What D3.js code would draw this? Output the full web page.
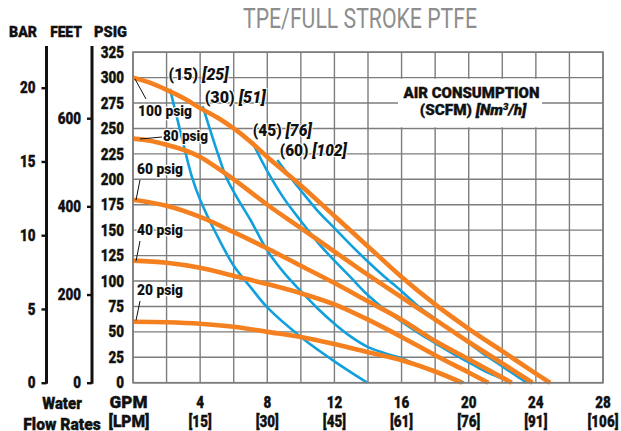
<!DOCTYPE html>
<html>
<head>
<meta charset="utf-8">
<script src="https://cdn.jsdelivr.net/npm/d3@7"></script>
<style>
  html, body { margin: 0; padding: 0; background: #fff; }
  svg { display: block; }
  text { font-family: Roboto, "Liberation Sans", sans-serif; font-weight: 900; fill: #111; stroke: #111; stroke-width: 0.35px; }
</style>
</head>
<body>
<svg id="chart" width="621" height="431"></svg>
<script>
// Water flow axis
const gpmTicks = [4, 8, 12, 16, 20, 24, 28];
const lpmLabels = ["[15]", "[30]", "[45]", "[61]", "[76]", "[91]", "[106]"];
// Discharge pressure axes
const psigTicks = [0, 25, 50, 75, 100, 125, 150, 175, 200, 225, 250, 275, 300, 325];
const barTicks = [0, 5, 10, 15, 20];
const feetTicks = [0, 200, 400, 600];

// Performance curves at constant air inlet pressure: [GPM, PSIG]
const psig100 = [[0,300],[1,295],[2,288],[3,280],[4,270],[5,261],[6,250],[7,237],[8,222],[9,208],[10,194],[12,164],[14,134],[16,104],[18,77],[20,53],[22,31],[24,9],[24.85,0]];
const psig80  = [[0,240],[1,238],[2,234],[3,229],[4,222],[6,200],[8,175],[10,152],[12,129],[14,106],[16,84],[18,62],[20,40],[22,19],[23.8,0]];
const psig60  = [[0,180],[2,174],[4,163],[6,148],[8,132],[10,115],[12,98],[14,80],[16,62],[18,41],[20,23],[22,5],[22.56,0]];
const psig40  = [[0,120],[2,118],[4,113],[6,105],[8,97],[10,88],[12,77],[14,62],[16,45],[18,27],[20,10],[21.17,0]];
const psig20  = [[0,60],[2,59.5],[4,58],[6,55],[8,50],[10,45],[12,38],[14,30],[16,22],[18,11],[19.6,0]];
const pressureLabels = ["100 psig", "80 psig", "60 psig", "40 psig", "20 psig"];

// Air consumption curves: [GPM, PSIG]
const scfm15 = [[2.2,289],[2.6,262],[3,235],[3.5,203],[4,180],[5,145],[6,115],[7,94],[8,74],[10,45],[12,21],[13.95,0]];
const scfm30 = [[4.15,272],[5,228],[5.58,201],[6.27,180],[7,160],[8,130],[9,108],[10,90],[11,73],[12,58],[13,45],[14,35],[15,29],[16,24],[17,17],[18,11],[19,5],[19.7,0]];
const scfm45 = [[7.1,237],[8,208],[9,181],[10,159],[11,138],[12,120],[13,103],[14,86],[15,72],[16,60],[17,49],[18,39],[19,29],[20,20],[21,11],[22,4],[22.5,0]];
const scfm60 = [[8.6,219],[9,210],[10,189],[11,169],[12,152],[13,135],[14,119],[15,104],[16,90],[17,75],[18,63],[19,51],[20,39],[21,27],[22,16],[23,5],[23.45,0]];
const scfmLabels = ["(15)", "(30)", "(45)", "(60)"];
const nm3hLabels = ["[25]", "[51]", "[76]", "[102]"];

const svg = d3.select("#chart");
const orange = "#f4801f", blue = "#12a0dc", gridColor = "#7d7d7d";
const NARROW = 0.84;

const x = d3.scaleLinear().domain([0, 28]).range([133, 603]);
const y = d3.scaleLinear().domain([0, 325]).range([382.7, 52.2]);
const PSI_PER_BAR = 14.5038, PSI_PER_FOOT = 0.4335;
const yBar = d3.scaleLinear().domain([0, 325 / PSI_PER_BAR]).range(y.range());
const yFeet = d3.scaleLinear().domain([0, 325 / PSI_PER_FOOT]).range(y.range());

// Text helper: places a label and squeezes it horizontally (condensed face)
function label(px, py, size, anchor) {
  const t = svg.append("text").attr("x", 0).attr("y", 0)
    .attr("text-anchor", anchor || "start").style("font-size", size + "px");
  t.node().__pos = [px, py];
  t.attr("transform", `translate(${px},${py}) scale(${NARROW},1)`);
  return t;
}
function fit(t, width) {
  const w = t.node().getBBox().width;
  const [px, py] = t.node().__pos;
  t.attr("transform", `translate(${px},${py}) scale(${width / w},1)`);
  return t;
}

// Title
fit(label(360, 28, 28, "middle").style("font-weight", "normal").style("fill", "#8d8d8d")
  .style("stroke", "none").text("TPE/FULL STROKE PTFE"), 234);

// Grid
const grid = svg.append("g");
grid.selectAll("line.v").data(d3.range(0, 29, 2)).join("line")
  .attr("x1", d => x(d)).attr("x2", d => x(d)).attr("y1", y(0)).attr("y2", y(325))
  .attr("stroke", gridColor).attr("stroke-width", 1.4);
grid.selectAll("line.h").data(psigTicks).join("line")
  .attr("x1", x(0)).attr("x2", x(28)).attr("y1", d => y(d)).attr("y2", d => y(d))
  .attr("stroke", gridColor).attr("stroke-width", 1.4);

// Legend box for air consumption
svg.append("rect").attr("x", 398).attr("y", y(300) + 1.2).attr("width", 144)
  .attr("height", y(250) - y(300) - 2.4).attr("fill", "#fff");
fit(label(471.5, 97.5, 14.5, "middle").text("AIR CONSUMPTION"), 137);
const l2 = label(473, 115, 14.5, "middle");
l2.append("tspan").text("(SCFM) ");
l2.append("tspan").style("font-style", "italic").text("[Nm");
l2.append("tspan").style("font-style", "italic").style("font-size", "9px").attr("dy", -5.5).text("3");
l2.append("tspan").style("font-style", "italic").attr("dy", 5.5).text("/h]");
fit(l2, 108);

// Curves
const line = d3.line().x(d => x(d[0])).y(d => y(d[1])).curve(d3.curveCatmullRom.alpha(0.5));
const airCurves = [scfm15, scfm30, scfm45, scfm60];
const pressureCurves = [psig100, psig80, psig60, psig40, psig20];

svg.append("g").selectAll("path").data(airCurves).join("path")
  .attr("d", line).attr("fill", "none").attr("stroke", blue).attr("stroke-width", 2.6);
svg.append("g").selectAll("path").data(pressureCurves).join("path")
  .attr("d", line).attr("fill", "none").attr("stroke", orange).attr("stroke-width", 4.6)
  .attr("stroke-linecap", "butt");

// Air consumption curve labels
const airLabelPos = [[2.12, 298], [4.27, 275.5], [7.13, 243], [8.74, 223.3]];
const airLabelWidth = [61, 62, 60, 68];
airLabelPos.forEach((p, i) => {
  const t = label(x(p[0]), y(p[1]), 16)
    .style("stroke", "#fff").style("stroke-width", 2).style("paint-order", "stroke");
  t.append("tspan").text(scfmLabels[i] + " ");
  t.append("tspan").style("font-style", "italic").text(nm3hLabels[i]);
  fit(t, airLabelWidth[i]);
});

// Pressure curve labels with leader lines
const pLabelPos = [[138, 116], [163, 141], [137, 174], [137, 235], [137, 295]];
const pLabelWidth = [54, 45, 46, 46, 46];
const leaders = [[[135, 79], [146, 99]], [[140, 139], [162, 137]], [[136, 200], [140, 180]],
                 [[136, 261], [140, 241]], [[136, 320.5], [140, 301]]];
leaders.forEach(s => svg.append("line")
  .attr("x1", s[0][0]).attr("y1", s[0][1]).attr("x2", s[1][0]).attr("y2", s[1][1])
  .attr("stroke", "#111").attr("stroke-width", 1));
pLabelPos.forEach((p, i) => {
  fit(label(p[0], p[1], 14)
    .style("stroke", "#fff").style("stroke-width", 2.5).style("paint-order", "stroke")
    .text(pressureLabels[i]), pLabelWidth[i]);
});

// Plot border
svg.append("rect").attr("x", x(0)).attr("y", y(325)).attr("width", x(28) - x(0))
  .attr("height", y(0) - y(325)).attr("fill", "none").attr("stroke", gridColor).attr("stroke-width", 1.6);

// PSIG axis labels
const psigAxis = svg.append("g").attr("transform", `translate(${x(0)},0)`)
  .call(d3.axisLeft(y).tickValues(psigTicks).tickSize(0).tickPadding(9 / NARROW));
psigAxis.select(".domain").remove();
psigAxis.selectAll("text").style("font-size", "16px").style("font-family", null)
  .style("fill", "#111").attr("transform", `scale(${NARROW},1)`);

// BAR and FEET axes
function sideAxis(scale, ticks, xPos) {
  const g = svg.append("g").attr("transform", `translate(${xPos},0)`)
    .call(d3.axisLeft(scale).tickValues(ticks).tickSize(5).tickPadding(11 / NARROW - 5).tickSizeOuter(0));
  g.select(".domain").remove();
  g.selectAll(".tick line").attr("stroke", "#111").attr("stroke-width", 2.4);
  g.selectAll("text").style("font-size", "16px").style("font-family", null)
    .style("fill", "#111").attr("transform", `scale(${NARROW},1)`);
  g.append("line").attr("x1", 0).attr("x2", 0).attr("y1", 46).attr("y2", y(0) + 1)
    .attr("stroke", "#111").attr("stroke-width", 3);
}
sideAxis(yBar, barTicks, 46.5);
sideAxis(yFeet, feetTicks, 92);

// Axis headers
[["BAR", 23, 28], ["FEET", 66, 32], ["PSIG", 110.5, 33]].forEach(h =>
  fit(label(h[1], 36.5, 15, "middle").text(h[0]), h[2]));

// GPM / LPM labels
gpmTicks.forEach((d, i) => {
  label(x(d), 407.5, 16, "middle").text(d);
  label(x(d), 427, 16, "middle").text(lpmLabels[i]);
});
fit(label(128.5, 407.5, 16, "middle").text("GPM"), 38);
fit(label(129, 427, 16, "middle").text("[LPM]"), 41);
fit(label(62, 408.5, 16, "middle").text("Water"), 40);
fit(label(62, 430, 16, "middle").text("Flow Rates"), 78);
</script>
</body>
</html>
